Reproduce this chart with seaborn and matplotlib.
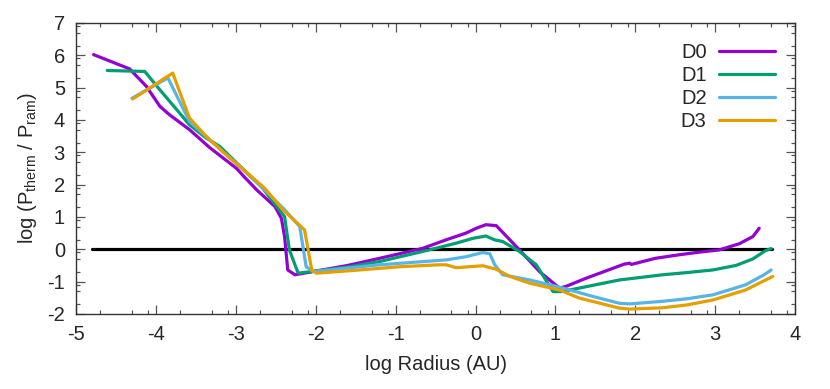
import numpy as np
import pandas as pd
import seaborn as sns
import matplotlib
matplotlib.use('Agg')
import matplotlib.pyplot as plt
from matplotlib.ticker import FixedLocator

# values (log radius, log pressure ratio)
d0_x = [-4.78, -4.33, -4.12, -3.95, -3.83, -3.58, -3.33, -3.2, -2.99, -2.91, -2.74, -2.51,
        -2.43, -2.39, -2.35, -2.26, -1.6, -1.2, -0.66, -0.37, -0.12, 0.01, 0.13, 0.26,
        0.55, 0.8, 1.05, 1.13, 1.38, 1.86, 1.93, 1.95, 2.25, 2.55, 2.8, 3.05, 3.3, 3.47, 3.55]
d0_y = [6.02, 5.58, 5.04, 4.42, 4.16, 3.70, 3.15, 2.90, 2.50, 2.28, 1.84, 1.32,
        0.96, 0.39, -0.64, -0.79, -0.50, -0.28, 0.03, 0.29, 0.50, 0.65, 0.76, 0.73,
        -0.02, -0.69, -1.2, -1.15, -0.9, -0.46, -0.43, -0.47, -0.28, -0.17, -0.09, -0.02, 0.17, 0.39, 0.65]

d1_x = [-4.61, -4.14, -3.95, -3.74, -3.58, -3.37, -3.2, -2.99, -2.68, -2.39, -2.33,
        -2.22, -1.6, -1.2, -0.58, -0.24, -0.03, 0.13, 0.24, 0.34, 0.55, 0.76, 0.97,
        1.07, 1.3, 1.8, 2.34, 2.65, 2.97, 3.26, 3.47, 3.63, 3.70]
d1_y = [5.53, 5.50, 4.93, 4.32, 3.85, 3.44, 3.18, 2.67, 1.94, 1.01, -0.02,
        -0.74, -0.55, -0.38, -0.02, 0.19, 0.34, 0.41, 0.29, 0.24, -0.07, -0.48, -1.31,
        -1.31, -1.2, -0.95, -0.79, -0.72, -0.64, -0.50, -0.30, -0.04, 0.02]

d2_x = [-4.30, -3.85, -3.58, -3.28, -2.95, -2.66, -2.40, -2.2, -2.12, -2.03, -1.6,
        -1.2, -0.37, -0.12, 0.09, 0.18, 0.24, 0.34, 0.68, 1.05, 1.47, 1.8, 1.93,
        2.34, 2.65, 2.97, 3.38, 3.61, 3.70]
d2_y = [4.67, 5.30, 3.95, 3.28, 2.56, 1.88, 1.25, 0.70, -0.54, -0.69, -0.58,
        -0.48, -0.33, -0.23, -0.10, -0.14, -0.48, -0.79, -0.95, -1.17, -1.46, -1.67, -1.69,
        -1.61, -1.53, -1.41, -1.10, -0.79, -0.64]

d3_x = [-4.29, -3.79, -3.58, -3.37, -3.12, -2.64, -2.41, -2.14, -2.05, -1.99, -1.5,
        -0.95, -0.45, -0.37, -0.24, 0.09, 0.26, 0.43, 0.68, 1.05, 1.3, 1.8, 1.93,
        2.34, 2.65, 2.97, 3.38, 3.72]
d3_y = [4.65, 5.45, 4.06, 3.49, 2.92, 1.89, 1.22, 0.60, -0.64, -0.74, -0.65,
        -0.54, -0.48, -0.48, -0.57, -0.51, -0.62, -0.84, -1.05, -1.26, -1.51, -1.82, -1.85,
        -1.81, -1.72, -1.57, -1.26, -0.84]

zero_x = [-4.8, 3.71]
zero_y = [0, 0]

names = ['D0', 'D1', 'D2', 'D3']
colors = ['#9400D3', '#009E73', '#56B4E9', '#E69F00']

frames = []
for name, xs, ys in zip(names, [d0_x, d1_x, d2_x, d3_x], [d0_y, d1_y, d2_y, d3_y]):
    frames.append(pd.DataFrame({'x': xs, 'y': ys, 'run': name}))
df = pd.concat(frames, ignore_index=True)

sns.set_style('ticks')
plt.rcParams['font.family'] = ['Liberation Sans', 'DejaVu Sans']
plt.rcParams['mathtext.fontset'] = 'custom'
plt.rcParams['mathtext.rm'] = 'Liberation Sans'
plt.rcParams['mathtext.it'] = 'Liberation Sans'
plt.rcParams['axes.unicode_minus'] = False

fig = plt.figure(figsize=(8.3, 3.89), dpi=100)
ax = fig.add_axes([0.0916, 0.193, 0.8664, 0.748])

sns.lineplot(x=zero_x, y=zero_y, color='black', linewidth=2.3, ax=ax, legend=False)
sns.lineplot(data=df, x='x', y='y', hue='run', palette=colors, sort=False,
             estimator=None, linewidth=2.3, ax=ax)

ax.set_xlim(-5, 4)
ax.set_ylim(-2, 7)
ax.set_xticks(range(-5, 5))
ax.set_yticks(range(-2, 8))
minor_off = [np.log10(2), np.log10(5), np.log10(8)]
ax.xaxis.set_minor_locator(FixedLocator([m + o for m in range(-5, 4) for o in minor_off]))
ax.yaxis.set_minor_locator(FixedLocator([m + o for m in range(-2, 7) for o in minor_off]))
ax.tick_params(which='both', direction='in', top=True, right=True, color='#555555',
               labelsize=14.5, width=0.9)
ax.tick_params(which='major', length=6.5, pad=8)
ax.tick_params(which='minor', length=3.2)
for s in ax.spines.values():
    s.set_linewidth(1.0)
    s.set_color('#333333')

ax.set_xlabel('log Radius (AU)', fontsize=14.5, labelpad=8)
ax.set_ylabel(r'log (P$_{\mathrm{therm}}$ / P$_{\mathrm{ram}}$)', fontsize=14.5, labelpad=6)

handles, labels = ax.get_legend_handles_labels()
ax.legend(handles[-4:], labels[-4:], loc='upper right', frameon=False, markerfirst=False,
          fontsize=14.5, handlelength=2.8, handletextpad=0.6, labelspacing=0.2,
          borderaxespad=0.6)

fig.savefig('out.png', dpi=100)
